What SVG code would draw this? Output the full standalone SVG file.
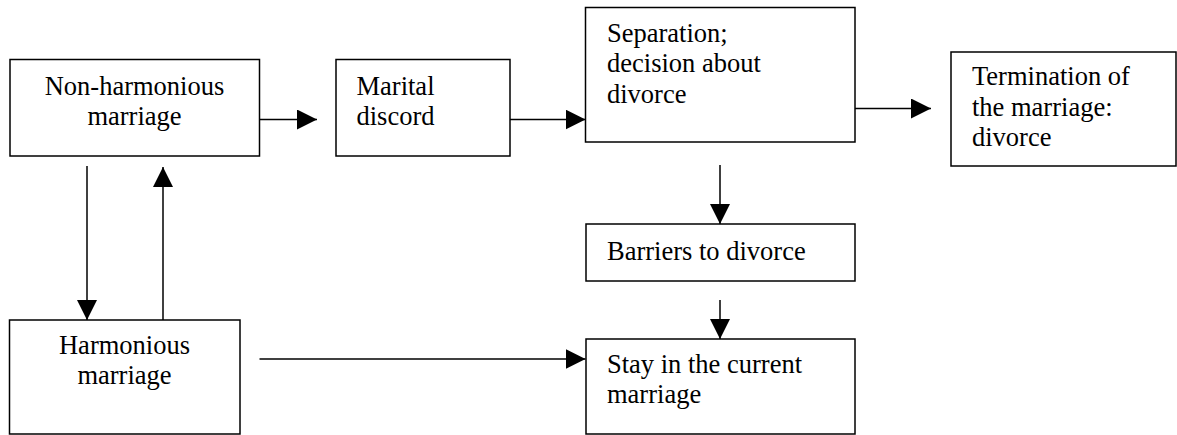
<svg xmlns="http://www.w3.org/2000/svg" width="1177" height="435" viewBox="0 0 1177 435">
<style>
.box{fill:#fff;stroke:#000;stroke-width:1.5}
text{font-family:'Liberation Serif','Times New Roman',serif;font-size:26.5px;fill:#000}
.c{text-anchor:middle}
.conn{stroke:#000;stroke-width:1.5;fill:none;marker-end:url(#ah)}
</style>
<defs>
<marker id="ah" markerUnits="userSpaceOnUse" markerWidth="20" markerHeight="20" refX="20" refY="10" orient="auto">
<path d="M0,0 L20,10 L0,20 z" fill="#000"/>
</marker>
</defs>
<rect width="1177" height="435" fill="#fff"/>
<g id="connectors">
<path class="conn" d="M259.5,119.5 H317"/>
<path class="conn" d="M510,119.5 H585.5"/>
<path class="conn" d="M855,108.5 H931"/>
<path class="conn" d="M720,165 V224"/>
<path class="conn" d="M720,300 V339"/>
<path class="conn" d="M87,166 V320"/>
<path class="conn" d="M163,320 V167"/>
<path class="conn" d="M259.5,359 H585.5"/>
</g>
<g id="non-harmonious">
<rect class="box" x="10" y="59.5" width="249.5" height="96.5"/>
<text class="c" x="134.5" y="95">Non-harmonious</text>
<text class="c" x="134.5" y="125">marriage</text>
</g>
<g id="marital-discord">
<rect class="box" x="336" y="59.5" width="174" height="96.5"/>
<text x="356.5" y="95">Marital</text>
<text x="356.5" y="125">discord</text>
</g>
<g id="separation">
<rect class="box" x="585.5" y="7.5" width="269.5" height="134.5"/>
<text x="607" y="41.5">Separation;</text>
<text x="607" y="72">decision about</text>
<text x="607" y="102.5">divorce</text>
</g>
<g id="termination">
<rect class="box" x="951" y="52" width="225" height="114"/>
<text x="972" y="85">Termination of</text>
<text x="972" y="115.5">the marriage:</text>
<text x="972" y="146">divorce</text>
</g>
<g id="barriers">
<rect class="box" x="586" y="224" width="269" height="57"/>
<text x="607" y="260">Barriers to divorce</text>
</g>
<g id="stay">
<rect class="box" x="586" y="339" width="269" height="95"/>
<text x="607" y="373">Stay in the current</text>
<text x="607" y="403">marriage</text>
</g>
<g id="harmonious">
<rect class="box" x="9.5" y="320" width="230.5" height="114"/>
<text class="c" x="124.5" y="353.5">Harmonious</text>
<text class="c" x="124.5" y="383.5">marriage</text>
</g>
</svg>
